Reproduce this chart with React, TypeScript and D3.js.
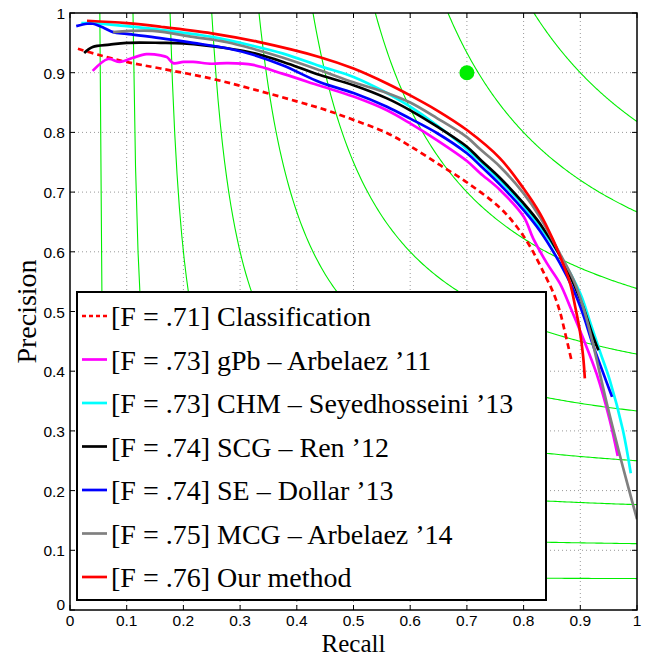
import * as d3 from 'd3';
import { useRef, useEffect } from 'react';

// layout
const W = 657;
const H = 658;
const M = { TOP: 13, LEFT: 70, RIGHT: 20, BOTTOM: 48 };

// data: [recall, precision]
const classification = [
  [0.014, 0.94], [0.05, 0.93], [0.1, 0.918], [0.16, 0.907], [0.25, 0.89], [0.32, 0.873],
  [0.4, 0.852], [0.453, 0.837], [0.5, 0.821], [0.559, 0.799], [0.6, 0.777], [0.653, 0.745],
  [0.705, 0.713], [0.758, 0.674], [0.788, 0.642], [0.812, 0.608], [0.835, 0.566], [0.853, 0.53],
  [0.864, 0.5], [0.873, 0.465], [0.884, 0.42],
];
const gpb = [
  [0.04, 0.903], [0.067, 0.923], [0.088, 0.918], [0.111, 0.925], [0.135, 0.931], [0.16, 0.929],
  [0.171, 0.926], [0.182, 0.916], [0.2, 0.918], [0.217, 0.918], [0.25, 0.915], [0.277, 0.916],
  [0.323, 0.913], [0.376, 0.898], [0.441, 0.878], [0.5, 0.86], [0.559, 0.837], [0.6, 0.815],
  [0.647, 0.787], [0.7, 0.752], [0.723, 0.732], [0.758, 0.704], [0.8, 0.659], [0.817, 0.622],
  [0.841, 0.581], [0.864, 0.547], [0.882, 0.508], [0.905, 0.455], [0.929, 0.395],
  [0.952, 0.318], [0.966, 0.258],
];
const chm = [
  [0.02, 0.983], [0.04, 0.983], [0.1, 0.978], [0.159, 0.972], [0.25, 0.96], [0.323, 0.945],
  [0.376, 0.932], [0.441, 0.911], [0.5, 0.893], [0.559, 0.866], [0.6, 0.843], [0.647, 0.812],
  [0.7, 0.772], [0.758, 0.72], [0.8, 0.677], [0.864, 0.594], [0.9, 0.53], [0.917, 0.483],
  [0.935, 0.432], [0.952, 0.385], [0.975, 0.302], [0.989, 0.229],
];
const scg = [
  [0.025, 0.933], [0.04, 0.943], [0.07, 0.947], [0.1, 0.95], [0.16, 0.95], [0.2, 0.949],
  [0.277, 0.941], [0.323, 0.933], [0.376, 0.918], [0.441, 0.896], [0.5, 0.879], [0.559, 0.857],
  [0.6, 0.837], [0.647, 0.81], [0.7, 0.776], [0.723, 0.755], [0.758, 0.724], [0.8, 0.681],
  [0.829, 0.647], [0.864, 0.594], [0.888, 0.547], [0.905, 0.508], [0.92, 0.465], [0.932, 0.435],
];
const se = [
  [0.011, 0.978], [0.03, 0.982], [0.04, 0.982], [0.06, 0.975], [0.076, 0.968], [0.1, 0.965],
  [0.159, 0.958], [0.217, 0.95], [0.277, 0.941], [0.323, 0.93], [0.376, 0.912], [0.441, 0.884],
  [0.5, 0.866], [0.559, 0.843], [0.6, 0.823], [0.647, 0.799], [0.7, 0.765], [0.723, 0.745],
  [0.758, 0.713], [0.8, 0.67], [0.829, 0.635], [0.864, 0.581], [0.888, 0.536], [0.905, 0.495],
  [0.922, 0.445], [0.94, 0.398], [0.956, 0.357],
];
const mcg = [
  [0.076, 0.968], [0.146, 0.97], [0.217, 0.96], [0.277, 0.951], [0.323, 0.94], [0.376, 0.925],
  [0.441, 0.904], [0.5, 0.884], [0.559, 0.866], [0.6, 0.85], [0.647, 0.824], [0.7, 0.792],
  [0.723, 0.772], [0.758, 0.743], [0.8, 0.698], [0.829, 0.658], [0.864, 0.597], [0.888, 0.553],
  [0.905, 0.508], [0.92, 0.455], [0.947, 0.345], [0.975, 0.24], [1.0, 0.152],
];
const ours = [
  [0.03, 0.987], [0.1, 0.983], [0.16, 0.977], [0.25, 0.966], [0.33, 0.952], [0.441, 0.926],
  [0.5, 0.907], [0.559, 0.882], [0.6, 0.862], [0.647, 0.837], [0.7, 0.804], [0.758, 0.757],
  [0.8, 0.706], [0.829, 0.664], [0.852, 0.62], [0.867, 0.586], [0.882, 0.547], [0.891, 0.508],
  [0.899, 0.469], [0.905, 0.425], [0.908, 0.388],
];

const SERIES = [
  { label: '[F = .71] Classification', data: classification, color: '#ff0000', dash: '6,4' },
  { label: '[F = .73] gPb \u2013 Arbelaez \u201911', data: gpb, color: '#ff00ff', dash: null },
  { label: '[F = .73] CHM \u2013 Seyedhosseini \u201913', data: chm, color: '#00ffff', dash: null },
  { label: '[F = .74] SCG \u2013 Ren \u201912', data: scg, color: '#000000', dash: null },
  { label: '[F = .74] SE \u2013 Dollar \u201913', data: se, color: '#0000ff', dash: null },
  { label: '[F = .75] MCG \u2013 Arbelaez \u201914', data: mcg, color: '#808080', dash: null },
  { label: '[F = .76] Our method', data: ours, color: '#ff0000', dash: null },
];

const isoF = [0.1, 0.2, 0.3, 0.4, 0.5, 0.6, 0.7, 0.8, 0.9];
const humanPoint = [0.7, 0.9];
const ticks = [0, 0.1, 0.2, 0.3, 0.4, 0.5, 0.6, 0.7, 0.8, 0.9, 1];

const SANS = '"Liberation Sans", Arial, sans-serif';
const SERIF = '"Liberation Serif", "Times New Roman", serif';

export default function App() {
  const ref = useRef<SVGSVGElement>(null);

  useEffect(() => {
    const svg = d3.select(ref.current);
    svg.selectAll('*').remove();
    const iw = W - M.LEFT - M.RIGHT;
    const ih = H - M.TOP - M.BOTTOM;
    const x = d3.scaleLinear().domain([0, 1]).range([M.LEFT, M.LEFT + iw]);
    const y = d3.scaleLinear().domain([0, 1]).range([M.TOP + ih, M.TOP]);

    svg.append('rect').attr('width', W).attr('height', H).attr('fill', '#fff');

    svg.append('defs').append('clipPath').attr('id', 'plot')
      .append('rect').attr('x', M.LEFT).attr('y', M.TOP).attr('width', iw).attr('height', ih);

    // grid
    const grid = svg.append('g');
    ticks.slice(1, -1).forEach((t) => {
      grid.append('line').attr('x1', x(t)).attr('x2', x(t)).attr('y1', y(0)).attr('y2', y(1))
        .attr('stroke', '#999').attr('stroke-width', 1).attr('stroke-dasharray', '1,3');
      grid.append('line').attr('x1', x(0)).attr('x2', x(1)).attr('y1', y(t)).attr('y2', y(t))
        .attr('stroke', '#999').attr('stroke-width', 1).attr('stroke-dasharray', '1,3');
    });

    // iso-F contours
    const plot = svg.append('g').attr('clip-path', 'url(#plot)');
    const line = d3.line<number[]>().x((d) => x(d[0])).y((d) => y(d[1]));
    isoF.forEach((f) => {
      const r0 = f / (2 - f);
      const pts = d3.range(0, 201).map((i) => {
        const r = r0 + ((1 - r0) * i) / 200;
        return [r, (f * r) / (2 * r - f)];
      });
      plot.append('path').attr('d', line(pts)).attr('fill', 'none')
        .attr('stroke', '#00ee00').attr('stroke-width', 1.1);
    });

    // curves
    const curve = d3.line<number[]>().x((d) => x(d[0])).y((d) => y(d[1])).curve(d3.curveCatmullRom);
    SERIES.forEach((s) => {
      plot.append('path').attr('d', curve(s.data)).attr('fill', 'none')
        .attr('stroke', s.color).attr('stroke-width', 2.7)
        .attr('stroke-dasharray', s.dash);
    });

    plot.append('circle').attr('cx', x(humanPoint[0])).attr('cy', y(humanPoint[1]))
      .attr('r', 7.5).attr('fill', '#00ee00');

    // axes: ticks inward on all sides
    const ax = svg.append('g');
    ticks.forEach((t) => {
      ax.append('line').attr('x1', x(t)).attr('x2', x(t)).attr('y1', y(0)).attr('y2', y(0) - 5).attr('stroke', '#000');
      ax.append('line').attr('x1', x(t)).attr('x2', x(t)).attr('y1', y(1)).attr('y2', y(1) + 5).attr('stroke', '#000');
      ax.append('line').attr('x1', x(0)).attr('x2', x(0) + 5).attr('y1', y(t)).attr('y2', y(t)).attr('stroke', '#000');
      ax.append('line').attr('x1', x(1)).attr('x2', x(1) - 5).attr('y1', y(t)).attr('y2', y(t)).attr('stroke', '#000');
      const lab = d3.format('.1~f')(t);
      ax.append('text').attr('x', x(t)).attr('y', y(0) + 16).attr('text-anchor', 'middle')
        .attr('font-family', SANS).attr('font-size', 15.5).text(lab);
      ax.append('text').attr('x', x(0) - 5).attr('y', y(t) + (t === 0 ? 0 : 6)).attr('text-anchor', 'end')
        .attr('font-family', SANS).attr('font-size', 15.5).text(lab);
    });
    ax.append('rect').attr('x', x(0)).attr('y', y(1)).attr('width', iw).attr('height', ih)
      .attr('fill', 'none').attr('stroke', '#000').attr('stroke-width', 1.5);

    svg.append('text').attr('x', x(0.5)).attr('y', 652).attr('text-anchor', 'middle')
      .attr('font-family', SERIF).attr('font-size', 25).text('Recall');
    svg.append('text').attr('transform', `translate(36, ${y(0.5)}) rotate(-90)`).attr('text-anchor', 'middle')
      .attr('font-family', SERIF).attr('font-size', 28).text('Precision');

    // legend
    const lg = svg.append('g');
    lg.append('rect').attr('x', 77).attr('y', 292).attr('width', 469).attr('height', 308)
      .attr('fill', '#fff').attr('stroke', '#000').attr('stroke-width', 2);
    SERIES.forEach((s, i) => {
      const cy = 316 + i * 43.5;
      lg.append('line').attr('x1', 82).attr('x2', 107).attr('y1', cy).attr('y2', cy)
        .attr('stroke', s.color).attr('stroke-width', 2.7).attr('stroke-dasharray', s.dash ? '4,3' : null);
      lg.append('text').attr('x', 111).attr('y', cy + 10).attr('font-family', SERIF).attr('font-size', 28)
        .attr('fill', '#000').text(s.label);
    });
  }, []);

  return <svg ref={ref} width={W} height={H} style={{ position: 'absolute', left: 0, top: 0 }} />;
}
